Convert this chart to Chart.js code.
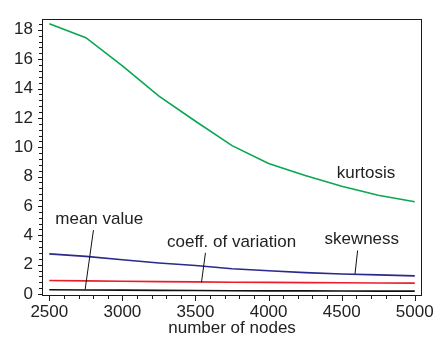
<!DOCTYPE html>
<html>
<head>
<meta charset="utf-8">
<script src="https://cdn.jsdelivr.net/npm/chart.js@4/dist/chart.umd.min.js"></script>
<style>
html,body{margin:0;padding:0;background:#fff;}
#c{display:block;}
</style>
</head>
<body>
<canvas id="c" width="440" height="341"></canvas>
<script>
// ---- data ----
const nodes = [2500, 2750, 3000, 3250, 3500, 3750, 4000, 4250, 4500, 4750, 5000];
const kurtosis = [18.41, 17.46, 15.54, 13.48, 11.77, 10.11, 8.90, 8.07, 7.35, 6.73, 6.29];
const skewness = [2.74, 2.57, 2.34, 2.12, 1.95, 1.73, 1.59, 1.46, 1.37, 1.31, 1.24];
const coeffVariation = [0.93, 0.90, 0.87, 0.85, 0.83, 0.81, 0.80, 0.78, 0.77, 0.76, 0.75];
const meanValue = [0.30, 0.28, 0.27, 0.25, 0.24, 0.23, 0.22, 0.22, 0.21, 0.20, 0.20];

const xTickLabels = [2500, 3000, 3500, 4000, 4500, 5000];
const yTickLabels = [0, 2, 4, 6, 8, 10, 12, 14, 16, 18];

// annotation labels (data coordinates) and leader lines
const labelNames = ["mean value", "coeff. of variation", "skewness", "kurtosis"];
const labelX = [2541, 3305, 4382, 4466];
const labelY = [4.76, 3.19, 3.41, 7.90];
const leaderFromX = [2802, 3568, 4609, null];
const leaderFromY = [4.36, 2.81, 2.97, null];
const leaderToX = [2745, 3541, 4591, null];
const leaderToY = [0.31, 0.80, 1.37, null];

const FONT = "'Liberation Sans', Arial, sans-serif";
const TEXT_COLOR = '#222';

function pts(arr){ return nodes.map((x,i)=>({x:x, y:arr[i]})); }

const ticksPlugin = {
  id: 'ticksAndFrame',
  afterDraw(chart){
    const ctx = chart.ctx;
    const xs = chart.scales.x, ys = chart.scales.y;
    const a = chart.chartArea;
    ctx.save();
    ctx.strokeStyle = '#1a1a1a';
    ctx.lineWidth = 1;
    // frame
    ctx.strokeRect(Math.round(a.left)+0.5, Math.round(a.top)+0.5, Math.round(a.right-a.left)-1, Math.round(a.bottom-a.top)-1);
    // x ticks
    const xb = Math.round(a.bottom);
    for (let v = xTickLabels[0]; v <= xTickLabels[xTickLabels.length-1] + 1e-6; v += 100){
      const major = xTickLabels.includes(v);
      const px = Math.round(xs.getPixelForValue(v)) + 0.5;
      ctx.beginPath();
      ctx.moveTo(px, xb - 1);
      ctx.lineTo(px, xb + (major ? 5 : 3));
      ctx.stroke();
    }
    // y ticks
    const yl = Math.round(a.left);
    for (let k = 0; k <= 46; k++){
      const v = k * 0.4;
      if (v > ys.max) break;
      const major = Math.abs(v/2 - Math.round(v/2)) < 1e-6;
      const py = Math.round(ys.getPixelForValue(v)) + 0.5;
      ctx.beginPath();
      ctx.moveTo(yl + 1, py);
      ctx.lineTo(yl - (major ? 4 : 3), py);
      ctx.stroke();
    }
    // annotations
    ctx.fillStyle = TEXT_COLOR;
    ctx.font = "17px " + FONT;
    ctx.textAlign = 'left';
    ctx.textBaseline = 'alphabetic';
    ctx.strokeStyle = '#111';
    for (let i = 0; i < labelNames.length; i++){
      ctx.fillText(labelNames[i], xs.getPixelForValue(labelX[i]), ys.getPixelForValue(labelY[i]));
      if (leaderFromX[i] !== null){
        ctx.beginPath();
        ctx.moveTo(xs.getPixelForValue(leaderFromX[i]), ys.getPixelForValue(leaderFromY[i]));
        ctx.lineTo(xs.getPixelForValue(leaderToX[i]), ys.getPixelForValue(leaderToY[i]));
        ctx.stroke();
      }
    }
    ctx.restore();
  }
};

new Chart(document.getElementById('c'), {
  type: 'line',
  data: {
    datasets: [
      {label: 'kurtosis', data: pts(kurtosis), borderColor: '#0aa650', borderWidth: 1.6, pointRadius: 0, tension: 0},
      {label: 'skewness', data: pts(skewness), borderColor: '#2a2a8c', borderWidth: 1.6, pointRadius: 0, tension: 0},
      {label: 'coeff. of variation', data: pts(coeffVariation), borderColor: '#ec1c2a', borderWidth: 1.6, pointRadius: 0, tension: 0},
      {label: 'mean value', data: pts(meanValue), borderColor: '#111111', borderWidth: 1.6, pointRadius: 0, tension: 0}
    ]
  },
  options: {
    responsive: false,
    animation: false,
    devicePixelRatio: 1,
    layout: {padding: {top: 12, right: 16, left: 0, bottom: 0}},
    plugins: {legend: {display: false}, tooltip: {enabled: false}},
    scales: {
      x: {
        type: 'linear',
        min: 2450, max: 5050,
        afterBuildTicks(scale){ scale.ticks = xTickLabels.map(v=>({value:v})); },
        afterFit(scale){ scale.height = 45; },
        grid: {display: false, drawTicks: false},
        border: {display: false},
        ticks: {color: TEXT_COLOR, font: {family: FONT, size: 17}, padding: 6, maxRotation: 0, autoSkip: false,
                callback: v => String(v)},
        title: {display: true, text: 'number of nodes', color: TEXT_COLOR, font: {family: FONT, size: 17}, padding: {top: 0, bottom: 2}}
      },
      y: {
        type: 'linear',
        min: -0.13, max: 18.72,
        afterBuildTicks(scale){ scale.ticks = yTickLabels.map(v=>({value:v})); },
        afterFit(scale){ scale.width = 42; },
        grid: {display: false, drawTicks: false},
        border: {display: false},
        ticks: {color: TEXT_COLOR, font: {family: FONT, size: 17}, padding: 9, autoSkip: false,
                callback: v => String(v)}
      }
    }
  },
  plugins: [ticksPlugin]
});
</script>
</body>
</html>
